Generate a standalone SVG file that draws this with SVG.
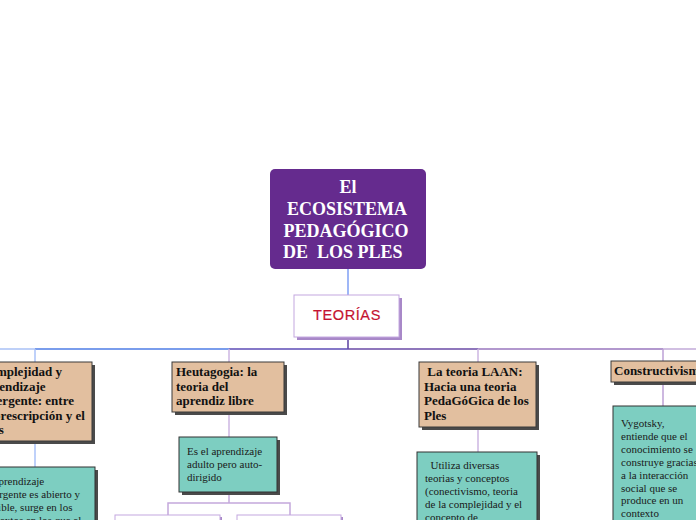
<svg xmlns="http://www.w3.org/2000/svg" width="696" height="520" viewBox="0 0 696 520">
<style>
.tan{fill:#e2bf9f;stroke:#3a3a3a;stroke-width:1}
.grn{fill:#7dcec1;stroke:#333;stroke-width:1}
.shd{fill:#4a4a4a}
.wht{fill:#fff;stroke:#c4a8e0;stroke-width:1}
.wshd{fill:#a888c8}
.tt{font-family:"Liberation Serif",serif;font-weight:bold;font-size:13px;fill:#111}
.gt{font-family:"Liberation Serif",serif;font-size:11px;fill:#1a1a1a}
.ct{font-family:"Liberation Serif",serif;font-weight:bold;font-size:18px;fill:#fff}
.c{fill:none;stroke-width:1.5}
</style>
<rect width="696" height="520" fill="#fff"/>
<g id="connectors">
<line class="c" x1="348" y1="269" x2="348" y2="295" stroke="#7f9ff5"/>
<line class="c" x1="348" y1="338" x2="348" y2="349" stroke="#5a3fa0" stroke-width="2"/>
<line class="c" x1="0" y1="349" x2="35" y2="349" stroke="#a9c0f6"/>
<line class="c" x1="35" y1="349" x2="229" y2="349" stroke="#4e7de6"/>
<line class="c" x1="229" y1="349" x2="348" y2="349" stroke="#5c4bb6"/>
<line class="c" x1="348" y1="349" x2="478" y2="349" stroke="#6a4aa6"/>
<line class="c" x1="478" y1="349" x2="663" y2="349" stroke="#9876be"/>
<line class="c" x1="663" y1="349" x2="696" y2="349" stroke="#c2aad8"/>
<line class="c" x1="35" y1="349" x2="35" y2="362" stroke="#aac2f8"/>
<line class="c" x1="35" y1="441" x2="35" y2="467" stroke="#aac2f8"/>
<line class="c" x1="229" y1="349" x2="229" y2="362" stroke="#cdb6e2"/>
<line class="c" x1="229" y1="412" x2="229" y2="437" stroke="#cdb6e2"/>
<line class="c" x1="229" y1="492" x2="229" y2="503" stroke="#c4a8dc"/>
<polyline class="c" points="168,515 168,503 290,503 290,515" stroke="#c4a8dc"/>
<line class="c" x1="478" y1="349" x2="478" y2="362" stroke="#cdb6e2"/>
<line class="c" x1="478" y1="427" x2="478" y2="452" stroke="#cdb6e2"/>
<line class="c" x1="663" y1="349" x2="663" y2="361" stroke="#bda0d6"/>
<line class="c" x1="663" y1="382" x2="663" y2="406" stroke="#bda0d6"/>
</g>
<g id="main">
<rect x="270" y="169" width="156" height="100" rx="5" fill="#652b8e"/>
<text class="ct" text-anchor="middle" xml:space="preserve"><tspan x="348" y="193">El</tspan><tspan x="347" y="215">ECOSISTEMA</tspan><tspan x="346" y="237">PEDAGÓGICO</tspan><tspan x="345" y="258">DE  LOS PLES </tspan></text>
</g>
<g id="teorias">
<rect class="wshd" x="297" y="298" width="105" height="42"/>
<rect class="wht" x="294" y="295" width="105" height="42"/>
<text x="347" y="319.5" text-anchor="middle" font-family="Liberation Sans, sans-serif" font-size="14.5" fill="#c41230" stroke="#c41230" stroke-width="0.2" letter-spacing="0.6">TEORÍAS</text>
</g>
<g id="complejidad">
<rect class="shd" x="-21" y="365" width="116" height="79"/>
<rect class="tan" x="-24" y="362" width="116" height="79"/>
<text class="tt"><tspan x="-20" y="376">Complejidad y</tspan><tspan x="-20" y="390.5">aprendizaje</tspan><tspan x="-20" y="405">emergente: entre</tspan><tspan x="-20" y="419.5">la prescripción y el</tspan><tspan x="-20" y="434">caos</tspan></text>
</g>
<g id="complejidad-desc">
<rect class="shd" x="-22" y="470" width="120" height="60"/>
<rect class="grn" x="-25" y="467" width="120" height="60"/>
<text class="gt"><tspan x="-19" y="485">El aprendizaje</tspan><tspan x="-19" y="498">emergente es abierto y</tspan><tspan x="-19" y="511">flexible, surge en los</tspan><tspan x="-19" y="524">contextos en los que el</tspan></text>
</g>
<g id="heutagogia">
<rect class="shd" x="175" y="365" width="112" height="50"/>
<rect class="tan" x="172" y="362" width="112" height="50"/>
<text class="tt"><tspan x="176" y="376">Heutagogia: la</tspan><tspan x="176" y="390.5">teoria del</tspan><tspan x="176" y="405">aprendiz libre</tspan></text>
</g>
<g id="heutagogia-desc">
<rect class="shd" x="182" y="440" width="98" height="55"/>
<rect class="grn" x="179" y="437" width="98" height="55"/>
<text class="gt"><tspan x="187" y="455">Es el aprendizaje</tspan><tspan x="187" y="468">adulto pero auto-</tspan><tspan x="187" y="481">dirigido</tspan></text>
</g>
<g id="sub1">
<rect class="wshd" x="117" y="517" width="105" height="20"/>
<rect class="wht" x="115" y="515" width="105" height="20"/>
</g>
<g id="sub2">
<rect class="wshd" x="239" y="517" width="104" height="20"/>
<rect class="wht" x="237" y="515" width="104" height="20"/>
</g>
<g id="laan">
<rect class="shd" x="422" y="365" width="117" height="65"/>
<rect class="tan" x="419" y="362" width="117" height="65"/>
<text class="tt" xml:space="preserve"><tspan x="424" y="376"> La teoria LAAN:</tspan><tspan x="424" y="390.5">Hacia una teoria</tspan><tspan x="424" y="405">PedaGóGica de los</tspan><tspan x="424" y="419.5">Ples</tspan></text>
</g>
<g id="laan-desc">
<rect class="shd" x="420" y="455" width="120" height="80"/>
<rect class="grn" x="417" y="452" width="120" height="80"/>
<text class="gt" font-size="11.5" xml:space="preserve"><tspan x="425" y="469">  Utiliza diversas</tspan><tspan x="425" y="482">teorias y conceptos</tspan><tspan x="425" y="495">(conectivismo, teoria</tspan><tspan x="425" y="508">de la complejidad y el</tspan><tspan x="425" y="521">concepto de</tspan></text>
</g>
<g id="constructivismo">
<rect class="shd" x="614" y="364" width="100" height="21"/>
<rect class="tan" x="611" y="361" width="100" height="21"/>
<text class="tt" x="614" y="375">Constructivismo</text>
</g>
<g id="constructivismo-desc">
<rect class="shd" x="616" y="409" width="100" height="120"/>
<rect class="grn" x="613" y="406" width="100" height="120"/>
<text class="gt" font-size="11.5"><tspan x="621" y="427">Vygotsky,</tspan><tspan x="621" y="440">entiende que el</tspan><tspan x="621" y="453">conocimiento se</tspan><tspan x="621" y="466">construye gracias</tspan><tspan x="621" y="479">a la interacción</tspan><tspan x="621" y="491.5">social que se</tspan><tspan x="621" y="504">produce en un</tspan><tspan x="621" y="517">contexto</tspan></text>
</g>
</svg>
